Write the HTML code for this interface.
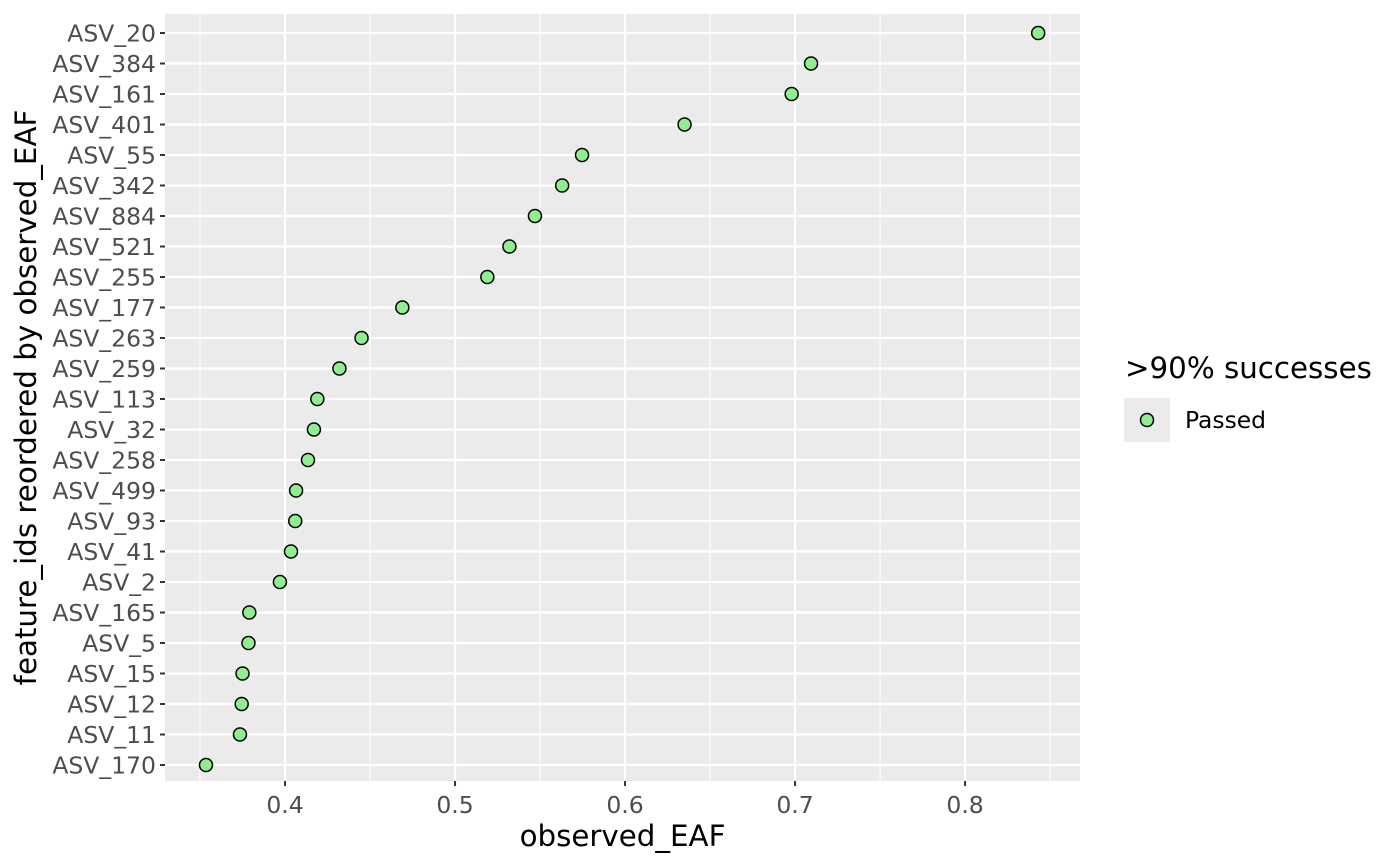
<!DOCTYPE html>
<html><head><meta charset="utf-8"><style>
html,body{margin:0;padding:0;background:#fff;}
svg{display:block;font-family:"DejaVu Sans","Liberation Sans",sans-serif;}
</style></head><body>
<svg id="chart" width="1400" height="866"></svg>
<script>
const categories=["ASV_20","ASV_384","ASV_161","ASV_401","ASV_55","ASV_342","ASV_884","ASV_521","ASV_255","ASV_177","ASV_263","ASV_259","ASV_113","ASV_32","ASV_258","ASV_499","ASV_93","ASV_41","ASV_2","ASV_165","ASV_5","ASV_15","ASV_12","ASV_11","ASV_170"];
const values=[0.843,0.7094,0.698,0.635,0.5747,0.563,0.547,0.532,0.519,0.469,0.445,0.432,0.419,0.417,0.4135,0.4065,0.406,0.4035,0.397,0.379,0.3785,0.375,0.3745,0.3735,0.3535];
const xTicks=[0.4,0.5,0.6,0.7,0.8];
const xTickLabels=["0.4","0.5","0.6","0.7","0.8"];
const xMinor=[0.35,0.45,0.55,0.65,0.75,0.85];

const NS="http://www.w3.org/2000/svg";
const svg=document.getElementById('chart');
const P={l:165,r:1080,t:14,b:781};
const xMin=0.3294,xMax=0.8676;
function x(v){return P.l+(v-xMin)/(xMax-xMin)*(P.r-P.l);}
const yTop=33,yStep=(765-33)/(categories.length-1);
function y(i){return yTop+i*yStep;}
function el(t,a,p){const e=document.createElementNS(NS,t);for(const k in a)e.setAttribute(k,a[k]);(p||svg).appendChild(e);return e;}

const bg=el('rect',{x:P.l,y:P.t,width:P.r-P.l,height:P.b-P.t,fill:'#ebebeb'});


xMinor.forEach(v=>{const g=el('line',{x1:x(v),x2:x(v),y1:P.t,y2:P.b,stroke:'#fff','stroke-width':1.1});

});
xTicks.forEach((v,i)=>{const g=el('line',{x1:x(v),x2:x(v),y1:P.t,y2:P.b,stroke:'#fff','stroke-width':2.2});


const tk=el('line',{x1:x(v),x2:x(v),y1:P.b,y2:P.b+5,stroke:'#333','stroke-width':2});


const t=el('text',{x:x(v),y:P.b+32,'text-anchor':'middle','font-size':23.5,fill:'#4d4d4d'});t.textContent=xTickLabels[i];

});
categories.forEach((c,i)=>{const g=el('line',{x1:P.l,x2:P.r,y1:y(i),y2:y(i),stroke:'#fff','stroke-width':2.2});


const tk=el('line',{x1:P.l-5,x2:P.l,y1:y(i),y2:y(i),stroke:'#333','stroke-width':2});


const t=el('text',{x:P.l-9,y:y(i)+8.5,'text-anchor':'end','font-size':23.5,fill:'#4d4d4d'});t.textContent=c;

});
categories.forEach((c,i)=>{const p=el('circle',{cx:x(values[i]),cy:y(i),r:6.5,fill:'#90ee90',stroke:'#000','stroke-width':1.5});

});
const xt=el('text',{x:(P.l+P.r)/2,y:846,'text-anchor':'middle','font-size':29.3,fill:'#000'});xt.textContent='observed_EAF';


const yt=el('text',{x:0,y:0,'text-anchor':'middle','font-size':29.3,fill:'#000',transform:'translate(36,'+((P.t+P.b)/2)+') rotate(-90)'});yt.textContent='feature_ids reordered by observed_EAF';


const lt=el('text',{x:1125,y:378,'font-size':29.3,fill:'#000'});lt.textContent='>90% successes';


const lk=el('rect',{x:1124,y:398,width:46,height:44,fill:'#ebebeb'});


const lp=el('circle',{cx:1147,cy:420,r:6.5,fill:'#90ee90',stroke:'#000','stroke-width':1.5});


const ll=el('text',{x:1185,y:428,'font-size':23.4,fill:'#000'});ll.textContent='Passed';


</script>
</body></html>
